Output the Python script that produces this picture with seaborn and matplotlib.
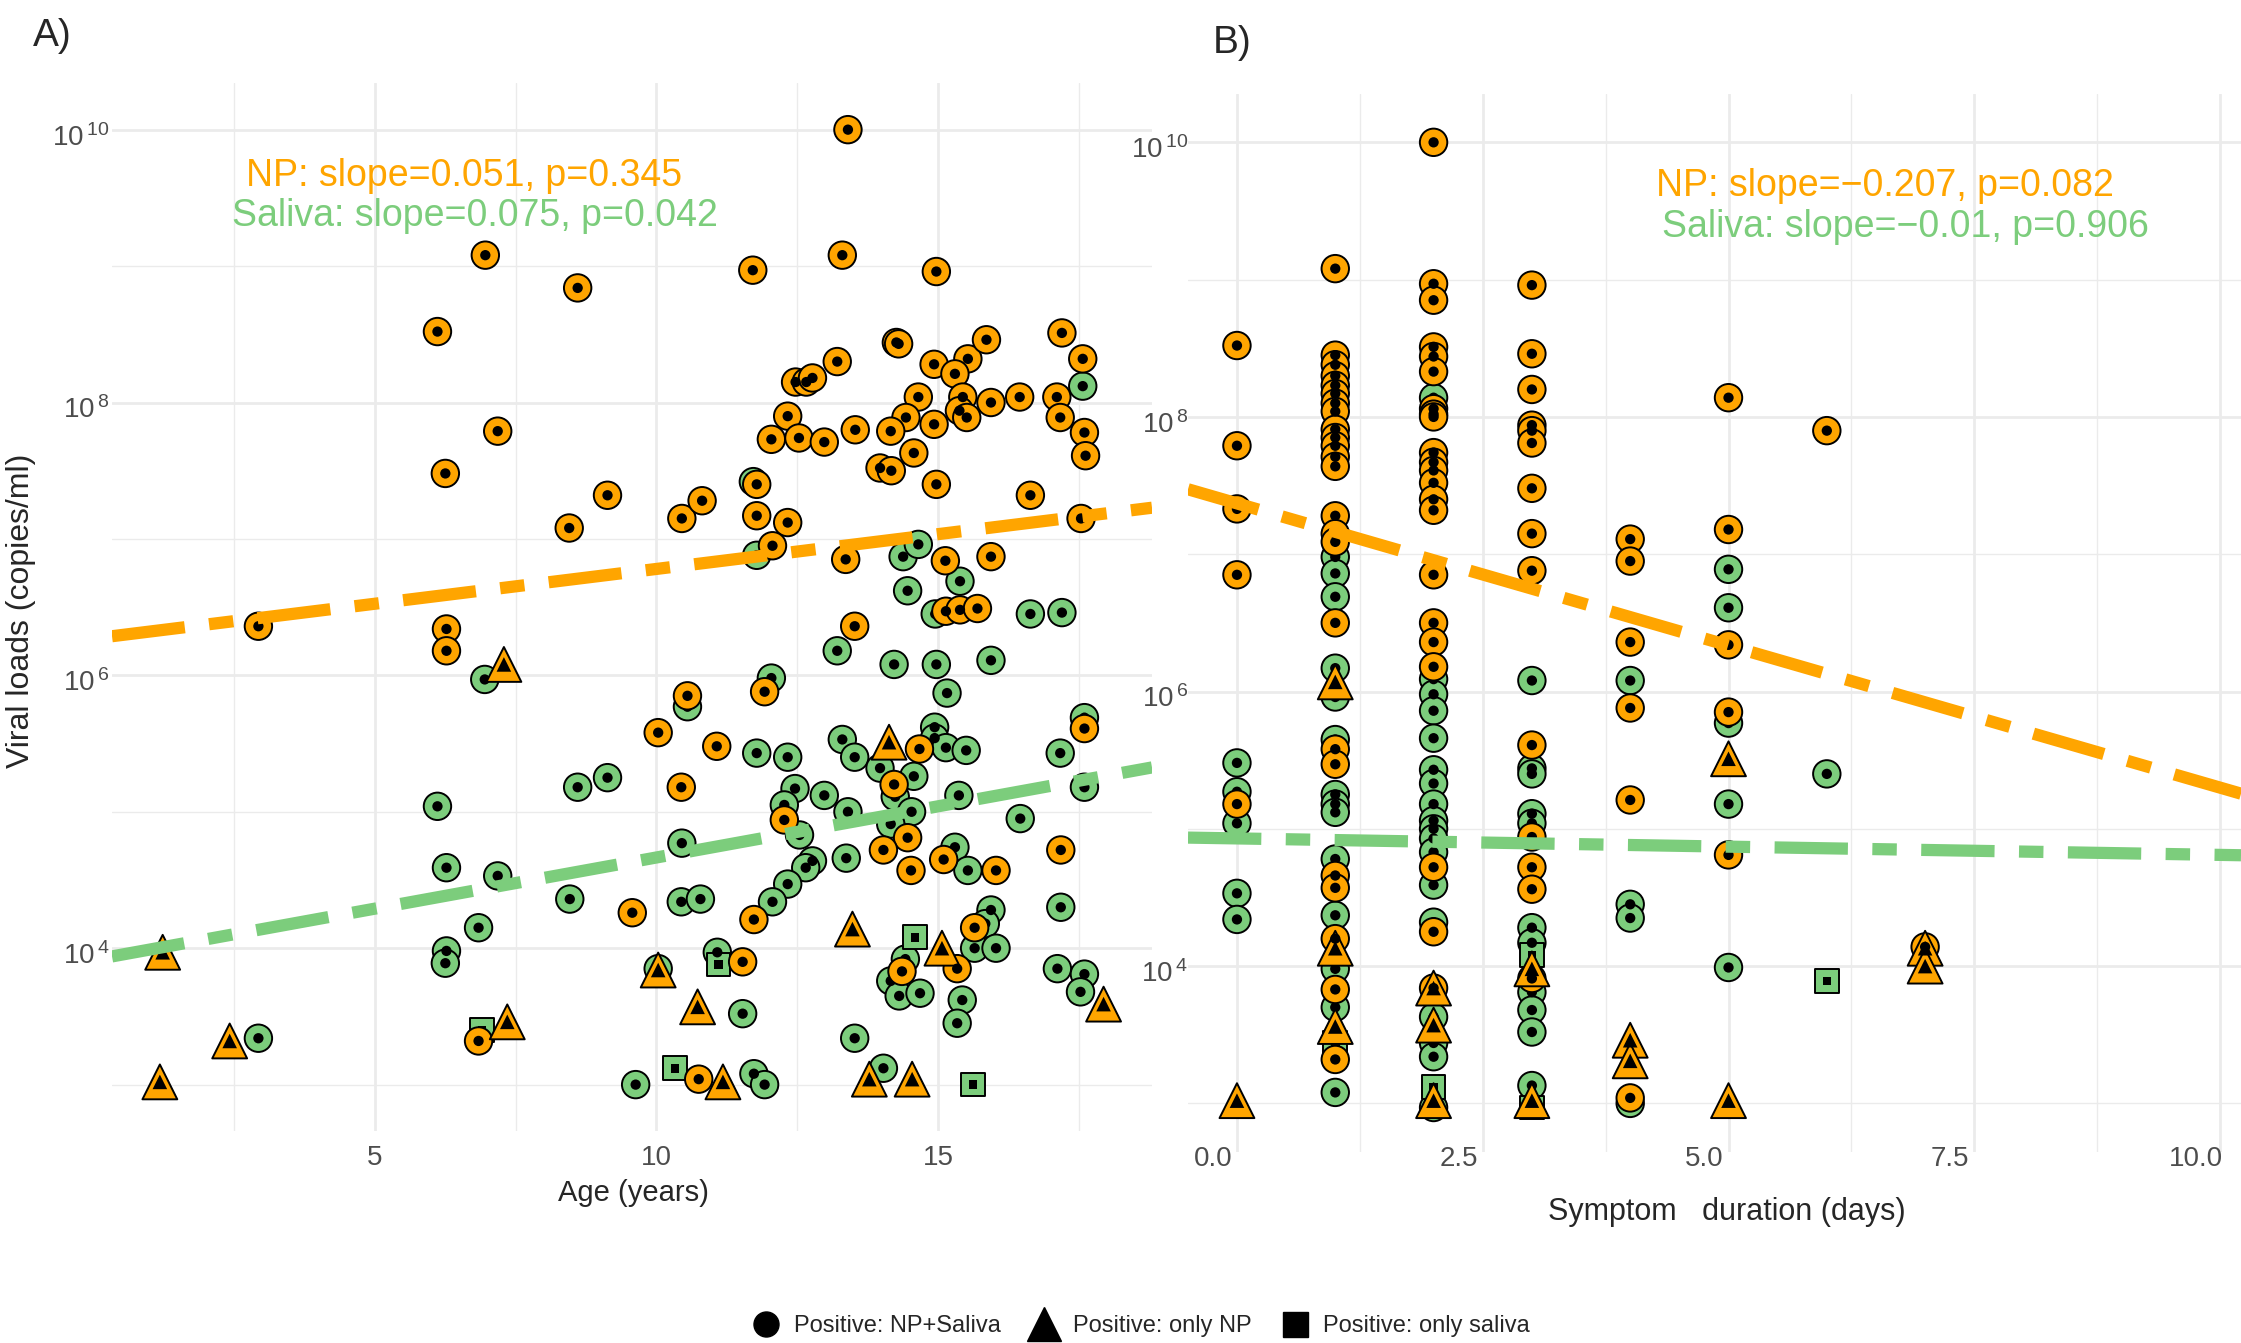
import numpy as np
import pandas as pd
import seaborn as sns
import matplotlib
matplotlib.use("Agg")
import matplotlib.pyplot as plt
from matplotlib.lines import Line2D
from matplotlib.ticker import FixedLocator, FuncFormatter, NullFormatter
import matplotlib.transforms as mtransforms

# =========================
# DATA (log10 viral loads)
# =========================
ORANGE = "#FFA500"
GREEN = "#7CCD7C"

# Panel A - NP samples (orange)
a_np_age = [6.96, 8.60, 6.11, 7.18, 6.25, 9.13, 8.45,
            13.40, 11.71, 13.30, 14.97, 17.20, 17.57, 14.26, 14.30, 13.21, 12.47, 12.66, 12.77,
            14.93, 15.53, 15.30, 15.86, 14.65, 15.44, 15.94, 16.45, 17.11, 17.17, 15.38, 15.51,
            12.33, 14.43, 12.04, 12.53, 12.98, 13.53, 14.16, 14.93, 17.60, 17.62, 14.57, 13.97,
            14.17, 14.97, 16.64, 17.54, 10.45, 10.81, 11.78, 11.78, 12.33, 12.06, 13.36, 15.13, 15.94,
            2.93, 6.27, 6.27, 6.84, 9.57,
            15.14, 15.39, 15.70, 13.52, 10.55, 11.92, 10.03, 11.07, 10.44, 14.67, 17.60, 14.22,
            12.27, 14.46, 14.03, 14.52, 15.10, 16.03, 17.18, 11.73, 11.53, 15.65, 14.36, 15.34, 10.75,
            7.29, 1.23, 2.42, 1.18, 7.35, 14.13, 13.48, 15.07, 10.03, 10.73, 11.18, 17.94, 13.78, 14.54]
a_np_log = [9.08, 8.84, 8.52, 7.79, 7.48, 7.32, 7.08,
            10.0, 8.97, 9.08, 8.96, 8.51, 8.32, 8.44, 8.43, 8.30, 8.15, 8.15, 8.18,
            8.28, 8.32, 8.21, 8.46, 8.04, 8.04, 8.00, 8.04, 8.04, 7.89, 7.94, 7.89,
            7.90, 7.89, 7.73, 7.74, 7.71, 7.80, 7.79, 7.84, 7.78, 7.61, 7.63, 7.52,
            7.50, 7.40, 7.32, 7.15, 7.15, 7.28, 7.40, 7.17, 7.12, 6.95, 6.85, 6.84, 6.87,
            6.36, 6.34, 6.18, 3.32, 4.26,
            6.47, 6.48, 6.49, 6.36, 5.85, 5.88, 5.58, 5.48, 5.18, 5.46, 5.61, 5.20,
            4.94, 4.81, 4.72, 4.57, 4.65, 4.57, 4.72, 4.21, 3.90, 4.15, 3.83, 3.85, 3.04,
            6.08, 3.97, 3.32, 3.02, 3.46, 5.51, 4.14, 4.00, 3.84, 3.57, 3.02, 3.59, 3.04, 3.04]
a_np_status = ["NP+Saliva"] * 86 + ["only NP"] * 14

# Panel A - saliva samples (green)
a_sal_age = [17.57, 11.72, 11.78, 14.38, 14.65, 15.39, 14.46,
             14.95, 16.64, 17.20, 13.21, 14.22, 14.97, 15.94, 15.16, 10.55, 12.04, 17.60,
             11.78, 12.33, 13.30, 13.52, 14.94, 14.94, 15.14, 15.50, 13.97, 14.57, 17.17, 12.46,
             12.98, 12.27, 13.40, 14.24, 14.53, 15.37, 17.60, 16.46, 14.16, 12.54, 10.45, 12.77,
             12.65, 13.37, 15.30, 15.53, 12.33, 12.06, 10.44, 10.78, 17.18, 15.94, 15.84, 11.08,
             15.65, 16.03, 14.42, 14.16, 14.31, 14.68, 15.43, 15.34, 17.12, 17.60, 17.53, 11.53,
             13.52, 14.03, 11.73, 11.92, 10.03, 9.63,
             6.95, 6.11, 8.60, 9.13, 6.27, 7.18, 8.46, 6.84, 6.27, 6.25, 2.93,
             6.90, 11.10, 14.59, 10.33, 15.62]
a_sal_log = [8.12, 7.42, 6.88, 6.87, 6.96, 6.69, 6.62,
             6.45, 6.45, 6.46, 6.18, 6.08, 6.08, 6.11, 5.87, 5.77, 5.98, 5.69,
             5.43, 5.40, 5.53, 5.40, 5.62, 5.54, 5.47, 5.45, 5.32, 5.26, 5.43, 5.17,
             5.12, 5.05, 5.00, 5.11, 5.00, 5.12, 5.18, 4.95, 4.91, 4.83, 4.77, 4.64,
             4.59, 4.66, 4.74, 4.57, 4.47, 4.34, 4.34, 4.36, 4.30, 4.28, 4.18, 3.97,
             4.00, 4.00, 3.92, 3.76, 3.65, 3.67, 3.62, 3.45, 3.85, 3.81, 3.68, 3.52,
             3.34, 3.12, 3.08, 3.00, 3.85, 3.00,
             5.97, 5.04, 5.18, 5.25, 4.59, 4.53, 4.36, 4.15, 3.98, 3.89, 3.34,
             3.40, 3.88, 4.08, 3.12, 3.00]
a_sal_status = ["NP+Saliva"] * 83 + ["only saliva"] * 5

# Panel B - NP samples (orange)
b_np_day = [0, 0, 0, 0, 0,
            1, 1, 1, 1, 1, 1, 1, 1, 1, 1, 1, 1, 1, 1, 1, 1, 1, 1, 1, 1, 1, 1, 1, 1,
            2, 2, 2, 2, 2, 2, 2, 2, 2, 2, 2, 2, 2, 2, 2, 2, 2, 2, 2, 2, 2, 2,
            3, 3, 3, 3, 3, 3, 3, 3, 3, 3, 3, 3, 3, 3,
            4, 4, 4, 4, 4, 4,
            5, 5, 5, 5, 5,
            6, 7,
            0, 1, 1, 1, 2, 2, 2, 3, 3, 4, 4, 5, 5, 7, 7]
b_np_log = [8.52, 7.79, 7.33, 6.85, 5.18,
            9.08, 8.45, 8.38, 8.30, 8.23, 8.17, 8.10, 8.04, 7.91, 7.85, 7.79, 7.71, 7.64, 7.28,
            7.15, 7.09, 6.50, 5.58, 5.47, 4.66, 4.57, 4.20, 3.83, 3.32,
            10.0, 8.97, 8.85, 8.51, 8.44, 8.33, 8.06, 8.02, 8.00, 7.74, 7.67, 7.61, 7.52, 7.40,
            7.32, 6.85, 6.50, 6.36, 6.18, 4.72, 4.25, 3.84,
            8.96, 8.46, 8.20, 7.94, 7.90, 7.81, 7.48, 7.15, 6.88, 5.61, 4.94, 4.72, 4.56, 3.91,
            7.11, 6.95, 6.36, 5.88, 5.21, 3.04,
            8.14, 7.18, 6.34, 5.85, 4.81,
            7.90, 4.14,
            3.02, 6.07, 4.13, 3.56, 3.84, 3.57, 3.02, 3.98, 3.02, 3.46, 3.31, 5.51, 3.02, 4.13, 4.00]
b_np_status = ["NP+Saliva"] * 78 + ["only NP"] * 15

# Panel B - saliva samples (green)
b_sal_day = [0, 0, 0, 0, 0,
             1, 1, 1, 1, 1, 1, 1, 1, 1, 1, 1, 1, 1, 1,
             2, 2, 2, 2, 2, 2, 2, 2, 2, 2, 2, 2, 2, 2, 2, 2, 2, 2,
             3, 3, 3, 3, 3, 3, 3, 3, 3, 3, 3,
             4, 4, 4, 4,
             5, 5, 5, 5, 5,
             6,
             1, 2, 3, 3, 6]
b_sal_log = [5.48, 5.27, 5.04, 4.53, 4.34,
             6.98, 6.86, 6.69, 6.17, 5.96, 5.65, 5.25, 5.18, 5.12, 4.78, 4.37, 3.98, 3.70, 3.08,
             8.14, 6.09, 5.98, 5.86, 5.66, 5.43, 5.33, 5.18, 5.06, 5.00, 4.93, 4.83, 4.59, 4.32,
             3.63, 3.44, 3.34, 2.97,
             6.08, 5.44, 5.40, 5.11, 5.04, 4.28, 4.17, 3.81, 3.68, 3.52, 3.13,
             6.08, 4.45, 4.35, 3.00,
             6.89, 6.61, 5.77, 5.18, 3.99,
             5.40,
             3.44, 3.12, 4.08, 2.97, 3.89]
b_sal_status = ["NP+Saliva"] * 58 + ["only saliva"] * 5

# regression fits (log10 load ~ x)
a_fit = {"NP": (6.27, 0.051), "Saliva": (3.915, 0.075)}
b_fit = {"NP": (7.37, -0.207), "Saliva": (4.93, -0.012)}

# =========================
# STYLE
# =========================
sns.set_style("white")
plt.rcParams["font.family"] = ["Liberation Sans", "DejaVu Sans"]

MARKERS = {"NP+Saliva": "o", "only NP": "^", "only saliva": "s"}
OUTER_SIZES = {"NP+Saliva": 390, "only NP": 630, "only saliva": 290}
INNER_SIZES = {"NP+Saliva": 55, "only NP": 110, "only saliva": 38}
GRID = "#EBEBEB"
TICK_COL = "#4D4D4D"

W, H = 2241, 1343
fig = plt.figure(figsize=(W / 100, H / 100), dpi=100)
axA = fig.add_axes([112 / W, 1 - 1131 / H, 1040 / W, 1048 / H])
axB = fig.add_axes([1188 / W, 1 - 1152 / H, 1053 / W, 1058 / H])


def draw_points(ax, xs, logs, status, fill):
    df = pd.DataFrame({"x": xs, "load": np.power(10.0, logs), "status": status})
    sns.scatterplot(data=df, x="x", y="load", style="status", markers=MARKERS,
                    size="status", sizes=OUTER_SIZES, color=fill, edgecolor="black",
                    linewidth=1.4, legend=False, ax=ax, zorder=3)
    sns.scatterplot(data=df, x="x", y="load", style="status", markers=MARKERS,
                    size="status", sizes=INNER_SIZES, color="black", edgecolor="none",
                    linewidth=0, legend=False, ax=ax, zorder=3)


def draw_fit(ax, fit, xlim):
    xs = np.array(xlim)
    for key, col in [("Saliva", GREEN), ("NP", ORANGE)]:
        b0, b1 = fit[key]
        ax.plot(xs, np.power(10.0, b0 + b1 * xs), color=col, lw=8.8,
                dashes=(6, 2, 2, 2), solid_capstyle="butt", zorder=5)


def style_axis(ax, xlim, ylim, xmaj, xmin, xfmt):
    ax.set_yscale("log")
    ax.set_xlim(*xlim)
    ax.set_ylim(10 ** ylim[0], 10 ** ylim[1])
    ax.yaxis.set_major_locator(FixedLocator([1e4, 1e6, 1e8, 1e10]))
    ax.yaxis.set_minor_locator(FixedLocator([1e3, 1e5, 1e7, 1e9]))
    ax.yaxis.set_major_formatter(FuncFormatter(
        lambda v, p: r"$\mathregular{10^{\,%d}}$" % int(round(np.log10(v)))))
    ax.yaxis.set_minor_formatter(NullFormatter())
    ax.xaxis.set_major_locator(FixedLocator(xmaj))
    ax.xaxis.set_minor_locator(FixedLocator(xmin))
    ax.xaxis.set_major_formatter(FuncFormatter(xfmt))
    ax.xaxis.set_minor_formatter(NullFormatter())
    ax.grid(True, which="major", color=GRID, linewidth=2.0)
    ax.grid(True, which="minor", color=GRID, linewidth=1.0)
    ax.set_axisbelow(True)
    for s in ax.spines.values():
        s.set_visible(False)
    ax.tick_params(which="both", length=0, labelcolor=TICK_COL, labelsize=20)
    ax.set_xlabel("")
    ax.set_ylabel("")


# =========================
# PANEL A
# =========================
xlimA = (0.33, 18.80)
draw_points(axA, a_sal_age, a_sal_log, a_sal_status, GREEN)
draw_points(axA, a_np_age, a_np_log, a_np_status, ORANGE)
draw_fit(axA, a_fit, xlimA)
style_axis(axA, xlimA, (2.66, 10.342), [5, 10, 15], [2.5, 7.5, 12.5, 17.5],
           lambda v, p: "%d" % v)
axA.tick_params(axis="x", pad=10)
axA.tick_params(axis="y", pad=2)

# =========================
# PANEL B
# =========================
xlimB = (-0.498, 10.213)
draw_points(axB, b_sal_day, b_sal_log, b_sal_status, GREEN)
draw_points(axB, b_np_day, b_np_log, b_np_status, ORANGE)
draw_fit(axB, b_fit, xlimB)
style_axis(axB, xlimB, (2.646, 10.352), [0, 2.5, 5, 7.5, 10], [1.25, 3.75, 6.25, 8.75],
           lambda v, p: "%.1f" % v)
axB.tick_params(axis="x", pad=-4)
axB.tick_params(axis="y", pad=0)
shift = mtransforms.ScaledTranslation(-0.24, 0, fig.dpi_scale_trans)
for t in axB.xaxis.get_major_ticks():
    t.label1.set_transform(t.label1.get_transform() + shift)

# nudge the y tick labels a little below the gridlines, as in the source
down = mtransforms.ScaledTranslation(0, -0.05, fig.dpi_scale_trans)
for ax in (axA, axB):
    for t in ax.yaxis.get_major_ticks():
        t.label1.set_transform(t.label1.get_transform() + down)

# =========================
# TEXT
# =========================
fig.text(33 / W, 1 - 46 / H, "A)", fontsize=28, ha="left", va="baseline")
fig.text(1213 / W, 1 - 53 / H, "B)", fontsize=28, ha="left", va="baseline")

fig.text(464 / W, 1 - 186 / H, "NP: slope=0.051, p=0.345", color=ORANGE,
         fontsize=27, ha="center", va="baseline")
fig.text(475 / W, 1 - 226 / H, "Saliva: slope=0.075, p=0.042", color=GREEN,
         fontsize=27, ha="center", va="baseline")
fig.text(1885 / W, 1 - 196 / H, "NP: slope=\u22120.207, p=0.082", color=ORANGE,
         fontsize=27, ha="center", va="baseline")
fig.text(1905 / W, 1 - 237 / H, "Saliva: slope=\u22120.01, p=0.906", color=GREEN,
         fontsize=27, ha="center", va="baseline")

fig.text(21 / W, 1 - 611 / H, "Viral loads (copies/ml)", rotation=90,
         fontsize=23, ha="center", va="center")
fig.text(633 / W, 1 - 1193 / H, "Age (years)", fontsize=21, ha="center", va="center")
fig.text(1727 / W, 1 - 1212 / H, "Symptom   duration (days)", fontsize=22,
         ha="center", va="center")

# =========================
# LEGEND
# =========================
handles = [
    Line2D([], [], marker="o", color="black", linestyle="none", markersize=18),
    Line2D([], [], marker="^", color="black", linestyle="none", markersize=24),
    Line2D([], [], marker="s", color="black", linestyle="none", markersize=18),
]
labels = ["Positive: NP+Saliva", "Positive: only NP", "Positive: only saliva"]
fig.legend(handles, labels, loc="center", bbox_to_anchor=(1142 / W, 1 - 1326 / H),
           ncol=3, frameon=False, fontsize=17, handlelength=1.0,
           handletextpad=0.7, columnspacing=1.35)

fig.savefig("out.png", dpi=100)
